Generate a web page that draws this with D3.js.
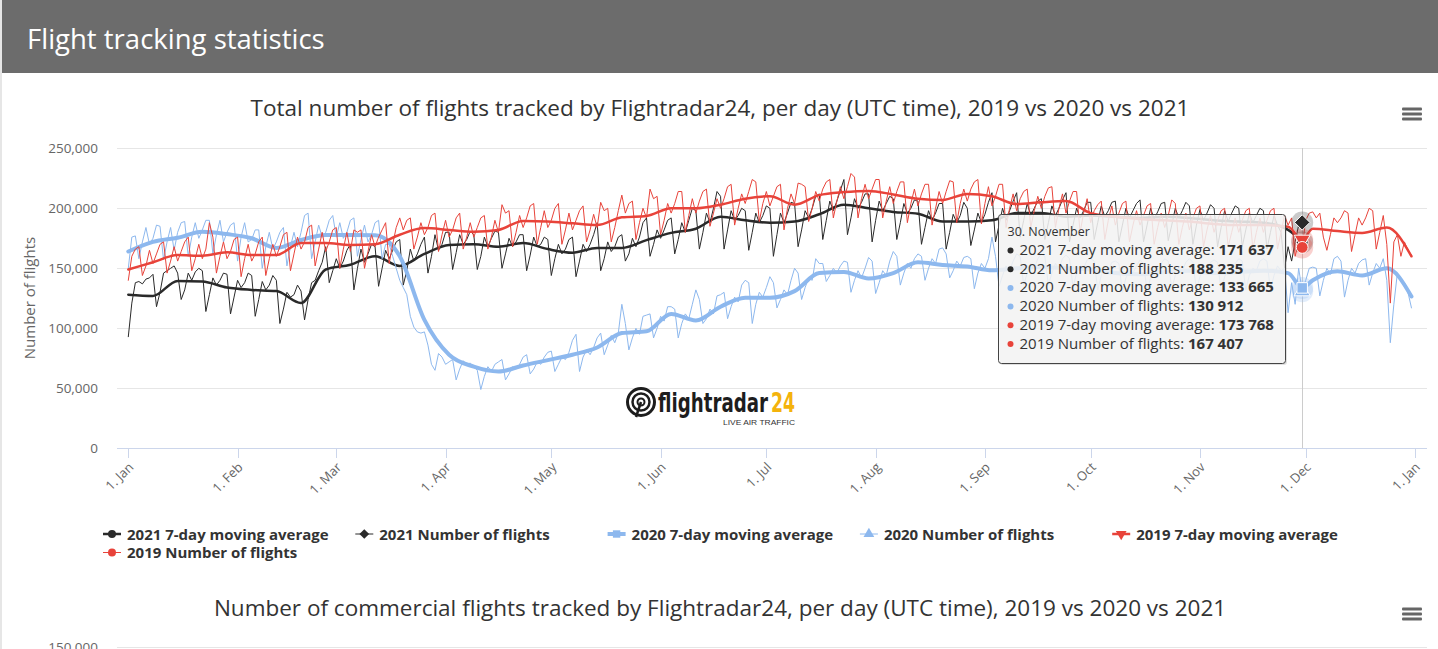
<!DOCTYPE html>
<html><head><meta charset="utf-8">
<script src="https://cdn.jsdelivr.net/npm/d3@7"></script>
<style>
html,body{margin:0;padding:0;background:#fff;overflow:hidden;}
svg{display:block;font-family:"Open Sans",sans-serif;}
</style></head><body>
<svg id="c" width="1438" height="649"></svg>
<script>
const pageTitle = "Flight tracking statistics";
const chartTitle = "Total number of flights tracked by Flightradar24, per day (UTC time), 2019 vs 2020 vs 2021";
const chartTitle2 = "Number of commercial flights tracked by Flightradar24, per day (UTC time), 2019 vs 2020 vs 2021";
const yAxisTitle = "Number of flights";
const yTicks = [0, 50000, 100000, 150000, 200000, 250000];
const monthTicks = ["1. Jan","1. Feb","1. Mar","1. Apr","1. May","1. Jun","1. Jul","1. Aug","1. Sep","1. Oct","1. Nov","1. Dec","1. Jan"];
const seriesNames = ["2021 7-day moving average","2021 Number of flights","2020 7-day moving average","2020 Number of flights","2019 7-day moving average","2019 Number of flights"];
const tooltipDate = "30. November";
const hoverDay = 333;
const tooltipValues = [171637, 188235, 133665, 130912, 173768, 167407];

// days (index from 1 Jan) at which the moving averages are read
const maDays = [0,7,14,21,28,35,42,49,56,63,70,77,84,91,98,105,112,119,126,133,140,147,154,161,168,175,182,189,196,203,210,217,224,231,238,245,252,259,266,273,280,287,294,301,308,315,322,329,333,336,343,350,357,364];

// values in thousands of flights
const ma2021 = [128,127,139.5,139,134,132,131,121,149,153,160,152,162,169.5,170,168,171,166,163,167,167,173.5,179.5,183,193,190,188,189,195,203,200,197,195.5,189,189,190,196,196,193,194,193,192,193,192,190,189,188,182,171.637];
const ma2020 = [164,172,175.5,180.5,178.5,175,167,173.6,177.8,177.8,177.5,160,107,78,68,64,69,73.5,78,84,96,97.5,112,106.5,118,125.5,125.5,131,146,147,141.5,146,155,152.7,151.5,148.3,150,151,150,149,146,145,147,148,146,147,148,146,133.665,140,147.5,144,150,126.5];
const ma2019 = [149,155,161,160.5,163.3,161,161,171,171,169.4,170,178,183.5,182,180.5,182,189.5,189,187.5,186,192.5,193.6,200,200,203,208,210,203,211,213.5,214.5,211.5,208,207,212,210,203.5,205,206,196,193,191,190,189,187,186,186,184.7,173.768,183,181,179.5,184,160];

const n2021 = [
93,121,138,139,137,141,142,
145,118,130,146,148,150,152,
146,124,132,146,140,147,150,
148,114,128,142,136,140,146,
145,112,126,140,134,138,146,
144,110,124,139,132,136,144,
140,104,116,130,126,128,136,
131,107,124,138,140,148,155,
168,138,148,158,150,156,165,
170,132,150,166,155,162,170,
168,135,150,165,158,165,172,
174,136,148,166,156,162,170,
176,146,160,178,165,170,180,
180,149,163,178,170,174,181,
178,149,160,176,168,175,181,
180,150,162,175,168,172,178,
178,148,161,176,168,170,176,
174,144,158,170,162,166,174,
176,143,156,170,164,170,178,
188,148,158,172,164,168,176,
178,156,162,175,168,176,188,
192,160,170,182,175,182,190,
192,162,174,188,180,190,200,
198,166,180,196,188,200,214,
210,166,182,198,190,194,200,
198,165,180,196,188,194,202,
200,160,178,196,188,196,205,
204,168,182,198,192,200,210,
212,174,190,206,198,206,215,
224,178,192,208,200,205,212,
212,172,190,206,198,204,210,
208,174,188,204,196,200,207,
206,170,184,198,190,196,204,
204,166,180,195,188,194,205,
200,169,182,196,188,195,205,
213,172,186,200,190,198,206,
213,176,190,204,194,200,206,
208,174,188,202,194,200,207,
213,172,186,200,192,198,205,
205,174,188,202,193,198,205,
206,172,186,200,192,198,204,
207,172,186,200,191,197,204,
205,173,186,200,192,198,205,
202,170,186,199,190,196,203,
200,168,184,198,189,196,202,
200,168,182,196,188,194,200,
198,166,180,194,186,180,150,
168,156,172,186,188.235];

const n2020 = [
150,176,177,158,172,184,170,
175,186,185,157,172,184,165,
180,188,189,160,176,188,175,
182,190,190,162,178,190,172,
180,186,188,156,176,188,172,
174,182,182,150,168,180,166,
172,180,184,152,168,180,168,
180,194,196,158,172,186,176,
180,190,194,176,188,175,180,
190,192,160,174,186,172,178,
188,190,158,170,170,160,150,
140,134,128,110,101,97,96,
97,86,70,65,79,76,70,
72,74,57,66,73,70,71,
68,65,49,60,68,64,70,
72,74,57,62,68,66,70,
76,78,62,66,72,70,76,
80,81,64,70,76,74,80,
90,95,64,76,82,78,84,
92,96,78,86,94,88,96,
120,104,82,92,100,95,110,
111,112,92,100,110,106,118,
118,116,92,104,112,108,120,
132,124,104,108,116,112,127,
128,130,108,118,126,122,136,
140,138,104,120,130,126,134,
143,138,117,124,132,128,140,
150,146,124,134,142,140,158,
154,154,139,144,150,146,152,
156,155,130,140,148,142,150,
159,156,129,138,148,144,156,
164,160,136,146,154,150,158,
162,160,140,150,158,154,166,
167,162,142,148,156,152,159,
160,158,133,146,154,150,158,
176,160,135,144,152,148,156,
162,160,136,146,154,150,158,
162,160,136,146,154,150,158,
161,158,134,146,152,150,157,
158,156,132,144,150,148,155,
156,154,130,142,148,146,152,
157,154,131,142,149,146,154,
158,156,133,144,150,148,155,
158,155,132,143,150,148,155,
157,155,131,143,149,146,154,
158,156,132,144,150,148,156,
158,156,132,144,152,148,150,
113,138,120,150,130.912,140,150,
151,150,127,140,150,145,158,
160,156,126,140,150,146,154,
157,158,136,146,154,150,158,
140,88,120,146,140,138,130,
117];

const n2019 = [
140,160,166,168,144,152,165,
154,162,170,172,146,156,168,
156,164,172,176,148,158,170,
158,166,188,176,146,160,172,
158,164,174,176,143,158,170,
156,162,172,176,144,158,170,
160,168,178,180,148,162,176,
166,172,184,186,152,166,180,
164,172,182,184,150,166,180,
164,182,180,182,150,164,178,
168,176,182,188,154,170,184,
192,182,190,192,166,176,188,
178,184,194,196,164,178,190,
176,182,192,196,166,176,188,
176,184,192,194,166,176,190,
180,203,196,198,168,180,194,
184,192,202,204,170,184,198,
184,190,200,204,170,182,196,
182,190,198,202,172,182,195,
184,205,198,200,172,184,198,
211,196,204,206,174,188,200,
192,216,208,210,178,190,204,
196,204,214,214,180,194,208,
196,206,214,216,185,196,208,
200,208,218,220,186,200,212,
204,214,224,222,189,204,214,
202,210,218,220,182,200,212,
204,221,220,218,189,200,214,
206,216,222,224,192,206,218,
208,218,229,226,192,208,220,
208,216,224,224,192,206,218,
204,214,222,222,188,204,216,
202,212,220,220,186,200,214,
204,214,223,222,188,204,216,
206,216,222,224,187,204,218,
202,210,220,220,184,200,212,
198,208,214,216,184,198,210,
200,210,217,218,184,200,212,
196,206,214,214,180,196,208,
188,198,203,206,174,190,202,
186,196,204,206,172,186,198,
186,194,202,204,170,184,196,
184,194,207,204,170,184,196,
182,192,200,202,168,182,194,
180,190,198,200,168,180,192,
180,190,198,200,166,180,192,
180,190,198,200,166,180,194,
186,192,160,172,167.407,190,196,
197,192,196,176,165,178,192,
188,192,198,196,164,178,192,
186,192,200,198,166,180,194,
170,121,172,178,160,172,165,
161];

const c2021 = "#2a2a2a", c2020 = "#8db8ee", c2019 = "#e8433a";

const svg = d3.select("#c");
svg.append("rect").attr("width",1438).attr("height",649).attr("fill","#fff");
svg.append("rect").attr("x",0).attr("y",0).attr("width",2).attr("height",649).attr("fill","#e6e6e6");
svg.append("rect").attr("x",2).attr("y",0).attr("width",1436).attr("height",73).attr("fill","#6c6c6c");
svg.append("text").attr("x",27).attr("y",49).attr("fill","#fff").style("font-size","27.5px").text(pageTitle);

// chart title
svg.append("text").attr("x",720).attr("y",116).attr("text-anchor","middle").attr("fill","#333").style("font-size","22.5px").text(chartTitle);
function burger(cx, cy){
  [-5,0,5].forEach(o=>svg.append("rect").attr("x",cx-10).attr("y",cy+o-1.5).attr("width",20).attr("height",3).attr("rx",1).attr("fill","#666"));
}
burger(1412,114);

const dayDate = d => new Date(Date.UTC(2021,0,1+d));
const x = d3.scaleUtc().domain([new Date(Date.UTC(2021,0,1)), new Date(Date.UTC(2022,0,1))]).range([128.3,1415]);
const y = d3.scaleLinear().domain([0,250000]).range([448.3,148.3]);
const plotL = 117, plotR = 1427;

// grid
svg.append("g").selectAll("line").data(yTicks.filter(t=>t>0)).join("line")
  .attr("x1",plotL).attr("x2",plotR).attr("y1",d=>Math.round(y(d))+0.5).attr("y2",d=>Math.round(y(d))+0.5)
  .attr("stroke","#e6e6e6");
svg.append("g").selectAll("text").data(yTicks).join("text")
  .attr("x",98).attr("y",d=>y(d)+4.5).attr("text-anchor","end").attr("fill","#666").style("font-size","13.5px")
  .text(d=>d3.format(",")(d));
svg.append("text").attr("transform","translate(35,298) rotate(-90)").attr("text-anchor","middle")
  .attr("fill","#666").style("font-size","15px").text(yAxisTitle);

// x axis
const monthDates = d3.utcMonth.range(new Date(Date.UTC(2021,0,1)), new Date(Date.UTC(2022,0,2)));
svg.append("line").attr("x1",plotL).attr("x2",plotR).attr("y1",448.5).attr("y2",448.5).attr("stroke","#ccd6eb");
const xt = svg.append("g").selectAll("g").data(monthDates).join("g");
xt.append("line").attr("x1",d=>Math.round(x(d))+0.5).attr("x2",d=>Math.round(x(d))+0.5).attr("y1",448).attr("y2",458).attr("stroke","#ccd6eb");
xt.append("text").attr("transform",d=>`translate(${x(d)+6},468) rotate(-45)`).attr("text-anchor","end")
  .attr("fill","#666").style("font-size","13px").text((d,i)=>monthTicks[i]);

// logo
const logo = svg.append("g").attr("transform","translate(626,386)");
logo.append("circle").attr("cx",15).attr("cy",16).attr("r",13.5).attr("fill","none").attr("stroke","#1d1d1d").attr("stroke-width",3);
logo.append("circle").attr("cx",15).attr("cy",16).attr("r",8.5).attr("fill","none").attr("stroke","#1d1d1d").attr("stroke-width",2.5);
logo.append("circle").attr("cx",15).attr("cy",16).attr("r",3.5).attr("fill","none").attr("stroke","#1d1d1d").attr("stroke-width",2);
logo.append("line").attr("x1",15).attr("y1",16).attr("x2",10).attr("y2",31).attr("stroke","#1d1d1d").attr("stroke-width",2.5);
const logoText = logo.append("text").attr("x",32).attr("y",26)
  .style("font-family","'DejaVu Sans Condensed','Liberation Sans Narrow',sans-serif").style("font-weight","bold").style("font-size","27px");
logoText.append("tspan").attr("fill","#1d1d1d").attr("textLength",110).attr("lengthAdjust","spacingAndGlyphs").text("flightradar");
logoText.append("tspan").attr("fill","#f4b30c").attr("dx",3).attr("textLength",24).attr("lengthAdjust","spacingAndGlyphs").text("24");
logo.append("text").attr("x",97).attr("y",39).attr("fill","#333")
  .style("font-family","'Liberation Sans',sans-serif").style("font-size","7px")
  .attr("textLength",72).attr("lengthAdjust","spacingAndGlyphs").text("LIVE AIR TRAFFIC");

// series
const series = [
  {name:seriesNames[0], color:c2021, w:2.5, pts:ma2021.map((v,i)=>[maDays[i],v]), sym:d3.symbolCircle, rot:0, smooth:true},
  {name:seriesNames[1], color:c2021, w:1, pts:n2021.map((v,i)=>[i,v]), sym:d3.symbolDiamond2, rot:0},
  {name:seriesNames[2], color:c2020, w:4, pts:ma2020.map((v,i)=>[maDays[i],v]), sym:d3.symbolSquare, rot:0, smooth:true},
  {name:seriesNames[3], color:c2020, w:1, pts:n2020.map((v,i)=>[i,v]), sym:d3.symbolTriangle, rot:0},
  {name:seriesNames[4], color:c2019, w:2.5, pts:ma2019.map((v,i)=>[maDays[i],v]), sym:d3.symbolTriangle, rot:180, smooth:true},
  {name:seriesNames[5], color:c2019, w:1, pts:n2019.map((v,i)=>[i,v]), sym:d3.symbolCircle, rot:0}
];
const gS = svg.append("g");
series.forEach(s=>{
  const line = d3.line().x(p=>x(dayDate(p[0]))).y(p=>y(p[1]*1000)).curve(s.smooth?d3.curveMonotoneX:d3.curveLinear);
  gS.append("path").attr("d",line(s.pts)).attr("fill","none").attr("stroke",s.color).attr("stroke-width",s.w)
    .attr("stroke-linejoin","round").attr("stroke-linecap","round");
});

// crosshair + hover markers
const hx = x(dayDate(hoverDay));
svg.append("line").attr("x1",Math.round(hx)+0.5).attr("x2",Math.round(hx)+0.5).attr("y1",148).attr("y2",448).attr("stroke","#cccccc");
const hoverOrder = [1,0,3,2,4,5];
const gH = svg.append("g");
hoverOrder.forEach(i=>{
  const s = series[i];
  const yy = y(tooltipValues[i]);
  gH.append("circle").attr("cx",hx).attr("cy",yy).attr("r",11).attr("fill",s.color).attr("opacity",0.25);
});
hoverOrder.forEach(i=>{
  const s = series[i];
  const yy = y(tooltipValues[i]);
  const size = s.sym===d3.symbolDiamond2 ? 150 : 110;
  gH.append("path").attr("d",d3.symbol(s.sym,size)()).attr("transform",`translate(${hx},${yy}) rotate(${s.rot})`)
    .attr("fill",s.color).attr("stroke","#fff").attr("stroke-width",1);
});

// legend
const lg = svg.append("g");
series.forEach((s,i)=>{
  const col = i%5, row = Math.floor(i/5);
  const lx = 112 + col*252.3, ly = 534 + row*18.5;
  lg.append("line").attr("x1",lx-9).attr("x2",lx+9).attr("y1",ly).attr("y2",ly).attr("stroke",s.color).attr("stroke-width",s.w);
  const sz = s.sym===d3.symbolDiamond2 ? 60 : (s.sym===d3.symbolSquare ? 55 : 50);
  lg.append("path").attr("d",d3.symbol(s.sym,sz)()).attr("transform",`translate(${lx},${ly}) rotate(${s.rot})`).attr("fill",s.color);
  lg.append("text").attr("x",lx+15).attr("y",ly+5.5).attr("fill","#333").style("font-size","15px").style("font-weight","bold").text(s.name);
});

// tooltip
const tt = svg.append("g").attr("transform","translate(998.5,214.5)");
tt.append("rect").attr("x",1.5).attr("y",1.5).attr("width",287).attr("height",149).attr("rx",3).attr("fill","rgba(0,0,0,0.12)");
tt.append("rect").attr("width",287).attr("height",149).attr("rx",3).attr("fill","rgba(247,247,247,0.86)").attr("stroke","#444").attr("stroke-width",1);
tt.append("text").attr("x",9).attr("y",21.5).attr("fill","#333").style("font-size","12.5px").text(tooltipDate);
series.forEach((s,i)=>{
  const by = 40.5 + i*18.7;
  tt.append("circle").attr("cx",12).attr("cy",by-4.5).attr("r",3).attr("fill",s.color);
  const t = tt.append("text").attr("x",21).attr("y",by).attr("fill","#333").style("font-size","15px");
  t.append("tspan").text(s.name + ": ");
  t.append("tspan").style("font-weight","bold").text(d3.format(",")(tooltipValues[i]).replace(/,/g," "));
});

// second chart header
svg.append("text").attr("x",720).attr("y",616).attr("text-anchor","middle").attr("fill","#333").style("font-size","22.5px").text(chartTitle2);
burger(1412,614);
svg.append("line").attr("x1",plotL).attr("x2",plotR).attr("y1",647.5).attr("y2",647.5).attr("stroke","#e6e6e6");
svg.append("text").attr("x",98).attr("y",651.5).attr("text-anchor","end").attr("fill","#666").style("font-size","13.5px").text("150,000");
</script>
</body></html>
